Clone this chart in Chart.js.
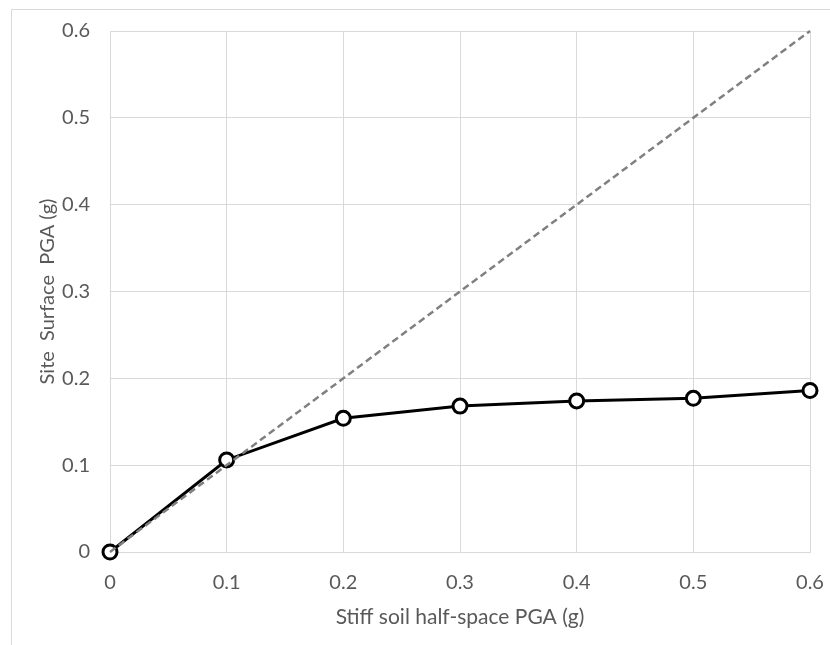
<!DOCTYPE html>
<html>
<head>
<meta charset="utf-8">
<script src="https://cdn.jsdelivr.net/npm/chart.js@4.4.1/dist/chart.umd.min.js"></script>
<style>
  html, body { margin: 0; padding: 0; background: #ffffff; }
  #wrap { position: relative; width: 830px; height: 645px; }
  #frame { position: absolute; left: 11px; top: 9px; width: 830px; height: 650px; border: 1px solid #d9d9d9; box-sizing: border-box; pointer-events: none; }
</style>
</head>
<body>
<div id="wrap">
  <canvas id="c" width="830" height="645"></canvas>
  <div id="frame"></div>
</div>
<script>
// Peak ground acceleration: stiff-soil half-space input vs. site surface response
const inputPGA = [0, 0.1, 0.2, 0.3, 0.4, 0.5, 0.6];
const surfacePGA = [0, 0.106, 0.154, 0.168, 0.174, 0.177, 0.186];
// 1:1 reference line
const equalityX = [0, 0.6];
const equalityY = [0, 0.6];
const tickValues = [0, 0.1, 0.2, 0.3, 0.4, 0.5, 0.6];

const FONT = "Lato, 'Open Sans', sans-serif";
const TEXT = '#595959';
const GRID = '#d9d9d9';

const toPoints = (xs, ys) => xs.map((x, i) => ({ x: x, y: ys[i] }));
const fmt = v => (Math.abs(v) < 1e-9 ? '0' : String(Math.round(v * 10) / 10));

new Chart(document.getElementById('c'), {
  type: 'scatter',
  data: {
    datasets: [
      {
        label: 'Surface PGA',
        data: toPoints(inputPGA, surfacePGA),
        showLine: true,
        clip: false,
        borderColor: '#000000',
        borderWidth: 3,
        pointRadius: 7,
        pointBorderWidth: 3,
        pointBackgroundColor: '#ffffff',
        pointBorderColor: '#000000',
        order: 1
      },
      {
        label: '1:1',
        data: toPoints(equalityX, equalityY),
        showLine: true,
        clip: false,
        borderColor: '#808080',
        borderWidth: 2.5,
        borderDash: [7, 4],
        pointRadius: 0,
        order: 0
      }
    ]
  },
  options: {
    responsive: false,
    animation: false,
    devicePixelRatio: 1,
    layout: { padding: { left: 0, top: 31, right: 20, bottom: 0 } },
    plugins: { legend: { display: false }, tooltip: { enabled: false } },
    scales: {
      x: {
        type: 'linear',
        min: 0, max: 0.6,
        afterBuildTicks: s => { s.ticks = tickValues.map(v => ({ value: v })); },
        afterFit: s => { s.height = 93; s.paddingLeft = 0; s.paddingRight = 0; },
        grid: { color: GRID, lineWidth: 1, drawTicks: false },
        border: { color: GRID, width: 1 },
        ticks: { color: TEXT, font: { family: FONT, size: 20 }, padding: 19, callback: v => fmt(v), maxRotation: 0 },
        title: { display: true, text: 'Stiff soil half-space PGA (g)', color: TEXT, font: { family: FONT, size: 21 }, padding: { top: 0, bottom: 15 } }
      },
      y: {
        type: 'linear',
        min: 0, max: 0.6,
        afterBuildTicks: s => { s.ticks = tickValues.map(v => ({ value: v })); },
        afterFit: s => { s.width = 110; s.paddingTop = 0; s.paddingBottom = 0; },
        grid: { color: GRID, lineWidth: 1, drawTicks: false },
        border: { color: GRID, width: 1 },
        ticks: { color: TEXT, font: { family: FONT, size: 20 }, padding: 20, callback: v => fmt(v) },
        title: { display: true, text: 'Site  Surface  PGA (g)', color: TEXT, font: { family: FONT, size: 20 }, padding: { top: 36, bottom: 0 } }
      }
    }
  }
});
</script>
</body>
</html>
